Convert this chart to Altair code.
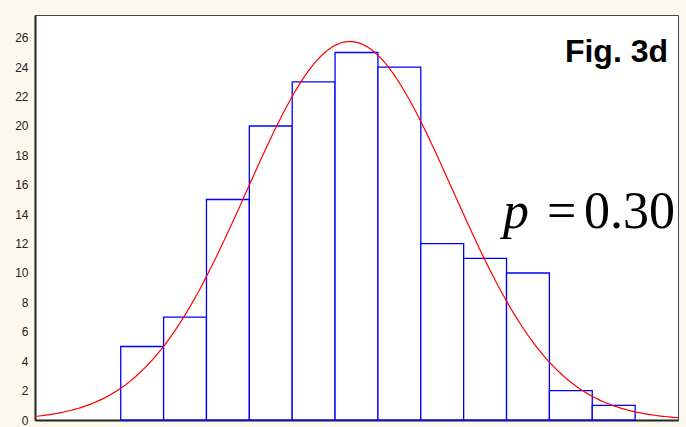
import altair as alt
import numpy as np
import pandas as pd

# Histogram: left edge of each unit-width bin and its count
bin_start = [2, 3, 4, 5, 6, 7, 8, 9, 10, 11, 12, 13]
counts = [5, 7, 15, 20, 23, 25, 24, 12, 11, 10, 2, 1]
y_ticks = list(range(0, 27, 2))

bars_df = pd.DataFrame({
    "start": bin_start,
    "end": [s + 1 for s in bin_start],
    "count": counts,
})

# Normal curve fitted to the histogram (mean, sd, scaled to counts)
c = np.array(counts, dtype=float)
centers = np.array(bin_start, dtype=float) + 0.5
n = c.sum()
mu = float((c * centers).sum() / n)
sd = float(np.sqrt((c * (centers - mu) ** 2).sum() / (n - 1)))
peak = float(n / (sd * np.sqrt(2 * np.pi)))

x_scale = alt.Scale(domain=[0, 15], nice=False, zero=False)
y_scale = alt.Scale(domain=[0, 27.55], nice=False)

x_axis = alt.Axis(title=None, labels=False, ticks=False, grid=False,
                  domainColor="#222222", domainWidth=2)
y_axis = alt.Axis(title=None, values=y_ticks, ticks=False, grid=False,
                  domainColor="#222222", domainWidth=2,
                  labelFont="Liberation Sans Narrow, Liberation Sans, Arial",
                  labelFontSize=12, labelColor="#222222", labelPadding=7)

bars = alt.Chart(bars_df).mark_rect(
    fill="white", stroke="#0000ff", strokeWidth=1.3
).encode(
    x=alt.X("start:Q", scale=x_scale, axis=x_axis),
    x2="end:Q",
    y=alt.Y("count:Q", scale=y_scale, axis=y_axis),
    y2=alt.datum(0),
)

curve = alt.Chart(alt.sequence(0, 15.001, 0.05, as_="x")).transform_calculate(
    y=f"{peak} * exp(-pow(datum.x - {mu}, 2) / (2 * {sd} * {sd}))"
).mark_line(color="#ff0000", strokeWidth=1.2).encode(
    x=alt.X("x:Q", scale=x_scale, axis=x_axis),
    y=alt.Y("y:Q", scale=y_scale, axis=y_axis),
)

fig_label = alt.Chart(pd.DataFrame({"t": ["Fig. 3d"]})).mark_text(
    font="Liberation Sans", fontWeight="bold", fontSize=32,
    align="right", baseline="alphabetic", color="#000000"
).encode(x=alt.value(633), y=alt.value(47), text="t:N")

p_sym = alt.Chart(pd.DataFrame({"t": ["p"]})).mark_text(
    font="Liberation Serif", fontStyle="italic", fontSize=52,
    align="left", baseline="alphabetic", color="#000000"
).encode(x=alt.value(468), y=alt.value(213), text="t:N")

eq_sym = alt.Chart(pd.DataFrame({"t": ["="]})).mark_text(
    font="Liberation Serif", fontSize=52,
    align="left", baseline="alphabetic", color="#000000"
).encode(x=alt.value(512), y=alt.value(213), text="t:N")

p_val = alt.Chart(pd.DataFrame({"t": ["0.30"]})).mark_text(
    font="Liberation Serif", fontSize=52,
    align="right", baseline="alphabetic", color="#000000"
).encode(x=alt.value(640), y=alt.value(213), text="t:N")

chart = alt.layer(bars, curve, fig_label, p_sym, eq_sym, p_val).properties(
    width=643,
    height=405,
    background="#fdf8ec",
    padding={"left": 35, "top": 15, "right": 8, "bottom": 7},
    autosize=alt.AutoSizeParams(type="none"),
).configure_view(
    fill="white", stroke="#444444", strokeWidth=1
)

chart.save("out.html", embed_options={"renderer": "svg", "actions": False})
